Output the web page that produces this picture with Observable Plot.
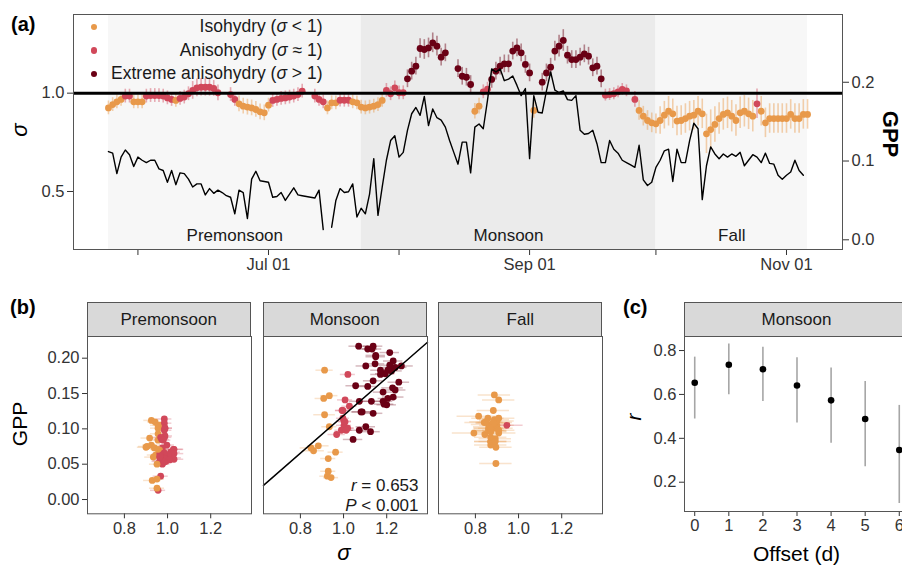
<!DOCTYPE html>
<html><head><meta charset="utf-8">
<script src="https://cdn.jsdelivr.net/npm/d3@7"></script>
<script src="https://cdn.jsdelivr.net/npm/@observablehq/plot@0.6"></script>
<style>
html,body{margin:0;padding:0;background:#fff;overflow:hidden;}
#root{position:relative;width:902px;height:565px;overflow:hidden;font-family:"Liberation Sans",Arial,sans-serif;color:#000;}
#root svg{position:absolute;}
.strip{position:absolute;background:#d9d9d9;border:1px solid #555;box-sizing:border-box;display:flex;align-items:center;justify-content:center;font-size:17px;color:#1a1a1a;}
.tag{position:absolute;font-weight:bold;font-size:20px;line-height:20px;}
.txt{position:absolute;white-space:nowrap;line-height:1;}
.rot{position:absolute;white-space:nowrap;line-height:1;transform:translate(-50%,-50%) rotate(-90deg);}
</style></head><body><div id="root"></div>
<script>
// ---------------- DATA ----------------
const startDate = "2019-05-24";           // first day of daily series
const seasonNames = ["Premonsoon", "Monsoon", "Fall"];
const seasonStart = ["2019-05-24", "2019-07-23", "2019-10-01"];
const seasonEnd   = ["2019-07-23", "2019-10-01", "2019-11-06"];
const seasonFill  = ["#f7f7f7", "#ebebeb", "#f7f7f7"];

const classCodes  = ["O", "A", "E"];
const classLabels = ["Isohydry (", "Anisohydry (", "Extreme anisohydry ("];
const classSuffix = [" < 1)", " \u2248 1)", " > 1)"];
const classColors = ["#E8994A", "#D1485A", "#6A0015"];

// daily sigma (null = missing)
const sigmaVals = [
0.925,0.942,0.956,0.968,0.985,0.985,0.956,0.956,0.956,0.985,
0.988,0.988,0.988,0.985,0.976,0.968,0.963,0.973,0.980,0.997,
1.014,1.027,1.030,1.030,1.030,1.024,1.002,null,null,0.993,
0.968,0.946,0.934,0.929,0.925,0.917,0.905,0.900,0.939,0.963,
0.968,0.973,0.976,0.980,0.985,0.993,1.010,null,null,0.985,
0.968,0.956,0.925,0.951,0.951,0.964,0.964,0.964,0.956,0.951,
0.929,0.925,0.929,0.934,0.942,0.963,1.014,0.997,1.027,1.002,
1.002,1.073,1.112,1.137,1.227,1.222,1.230,1.256,1.239,1.183,
1.205,null,null,1.125,1.086,1.081,1.044,0.908,0.934,1.007,
1.020,1.070,1.112,1.137,1.149,1.149,1.214,1.230,1.205,1.146,
1.103,0.912,null,1.056,1.103,1.132,1.214,1.239,1.268,1.193,
1.171,1.171,1.183,1.200,1.188,1.129,1.137,1.073,0.990,0.993,
0.997,1.007,1.019,1.012,null,0.968,0.912,0.883,0.861,0.849,
0.844,0.861,0.888,0.908,0.895,0.858,0.861,0.871,0.883,0.888,
0.908,0.895,0.793,0.815,0.841,0.871,0.892,0.900,0.883,0.861,
0.900,0.908,0.895,0.883,0.946,0.908,0.849,0.871,0.871,0.871,
0.871,0.871,0.892,0.871,0.871,0.892,0.892
];
// daily sigma uncertainty (half width)
const sigmaErr = [
0.035,0.035,0.035,0.035,0.035,0.035,0.035,0.035,0.035,0.035,
0.035,0.035,0.035,0.035,0.035,0.035,0.035,0.035,0.035,0.035,
0.045,0.045,0.045,0.045,0.045,0.04,0.04,0.04,0.04,0.035,
0.035,0.04,0.04,0.04,0.04,0.04,0.04,0.04,0.035,0.035,
0.035,0.035,0.035,0.035,0.035,0.035,0.035,0.035,0.035,0.035,
0.035,0.035,0.035,0.035,0.035,0.035,0.035,0.035,0.035,0.035,
0.035,0.035,0.035,0.035,0.035,0.035,0.035,0.035,0.035,0.035,
0.035,0.045,0.045,0.045,0.05,0.05,0.05,0.05,0.05,0.045,
0.045,0.045,0.045,0.045,0.045,0.045,0.045,0.04,0.04,0.035,
0.035,0.045,0.045,0.045,0.045,0.045,0.045,0.045,0.045,0.045,
0.045,0.04,0.04,0.045,0.045,0.045,0.05,0.055,0.055,0.045,
0.045,0.045,0.045,0.045,0.045,0.045,0.045,0.045,0.03,0.03,
0.03,0.03,0.03,0.03,0.03,0.04,0.05,0.05,0.05,0.05,
0.05,0.07,0.07,0.075,0.075,0.075,0.075,0.075,0.075,0.075,
0.075,0.075,0.1,0.1,0.09,0.08,0.08,0.08,0.08,0.08,
0.08,0.08,0.08,0.08,0.075,0.075,0.075,0.075,0.075,0.075,
0.075,0.075,0.075,0.075,0.075,0.075,0.075
];
// daily class code (O iso, A aniso, E extreme, . missing)
const hydryClass = (
"OOOOAAOOOA" + "AAAAAAOAAA" + "AAAAAAA..A" + "AOOOOOOOOA" + "AAAAAAA..A" +
"AAOOOAAAOO" + "OOOOOOAAAA" + "AEEEEEEEEE" + "E..EEEEOOA" + "AEEEEEEEEE" +
"EO.EEEEEEE" + "EEEEEEEEAA" + "AAAA.AOOOO" + "OOOOOOOOOO" + "OOOOOOOOOO" +
"OOOOAOOOOO" + "OOOOOOO").split("");
// daily GPP
const gppVals = [
0.112,0.110,0.084,0.105,0.114,0.108,0.093,0.105,0.101,0.098,
0.101,0.101,0.090,0.088,0.073,0.088,0.070,0.085,0.084,0.077,
0.067,0.071,0.071,0.057,0.065,0.059,0.063,0.060,0.056,0.054,
0.033,0.063,0.060,0.027,0.077,0.087,0.075,0.074,0.073,0.054,
0.055,0.060,0.050,0.058,0.066,0.057,0.056,0.055,0.054,0.053,
0.063,0.013,null,0.016,0.050,0.065,0.060,0.061,0.071,0.029,
0.040,0.033,0.058,0.103,0.031,0.067,0.101,0.126,0.132,0.105,
0.111,0.139,0.160,0.168,0.158,0.182,0.145,0.166,0.155,0.152,
0.143,0.126,0.111,0.096,0.124,0.124,0.085,0.143,0.147,0.141,
0.177,0.217,0.213,0.217,0.202,0.204,0.208,0.196,0.183,0.192,
0.103,0.183,0.162,0.161,0.189,0.213,0.190,0.187,0.189,0.178,
0.177,0.183,0.139,0.134,0.135,0.139,0.122,0.098,0.098,0.126,
0.115,0.110,0.101,0.098,0.095,0.092,0.120,0.076,0.069,0.073,
0.092,0.101,0.113,0.115,0.074,0.115,0.098,0.098,0.126,0.148,
0.141,0.051,0.094,0.118,0.109,0.103,0.109,0.105,0.109,0.106,
0.111,0.094,0.101,0.108,0.105,0.098,0.110,0.097,0.096,0.082,
0.077,0.082,0.086,0.101,0.088,0.082,null
];
// x-axis ticks of panel (a)
const tickDates  = ["2019-05-31", "2019-07-01", "2019-08-01", "2019-09-01", "2019-10-01", "2019-11-01"];
const tickLabels = ["", "Jul 01", "", "Sep 01", "", "Nov 01"];

// monsoon regression (panel b)
const fitSlope = 0.2666, fitIntercept = -0.1477;
const fitR = "0.653", fitP = "0.001";

// panel (c)
const offsets = [0, 1, 2, 3, 4, 5, 6];
const rVals = [0.653, 0.735, 0.715, 0.641, 0.573, 0.488, 0.347];
const rLo   = [0.488, 0.598, 0.568, 0.470, 0.377, 0.270, 0.103];
const rHi   = [0.770, 0.830, 0.815, 0.767, 0.720, 0.659, 0.550];

// ---------------- BUILD ----------------
const root = document.getElementById("root");
const DAY = 864e5;
const t0 = +new Date(startDate);
const sEnd = seasonEnd.map(d => +new Date(d));
const rows = sigmaVals.map((s, i) => {
  const t = t0 + i * DAY;
  const season = t < sEnd[0] ? 0 : t < sEnd[1] ? 1 : 2;
  return {date: new Date(t), sigma: s, err: sigmaErr[i], cls: hydryClass[i], gpp: gppVals[i], season};
});
const sRows = rows.filter(d => d.sigma != null);
const seasonRows = seasonNames.map((n, i) => {
  const a = +new Date(seasonStart[i]), b = +new Date(seasonEnd[i]);
  return {name: n, x1: new Date(a), x2: new Date(b), mid: new Date((a + b) / 2), fill: seasonFill[i]};
});

const font = "Liberation Sans, Arial, sans-serif";
const baseStyle = {fontFamily: font, fontSize: "16.5px", color: "#333", background: "transparent", overflow: "visible"};
const colorScale = {domain: classCodes, range: classColors};
const f1 = d3.format(".1f"), f2 = d3.format(".2f");

function place(el, left, top) { el.style.left = left + "px"; el.style.top = top + "px"; root.appendChild(el); return el; }
function html(cls, text, css) { const d = document.createElement("div"); d.className = cls; d.innerHTML = text; Object.assign(d.style, css); root.appendChild(d); return d; }

// ---- Panel (a) ----
const xDomainA = [new Date(t0 - 8.3 * DAY), new Date(t0 + 174.3 * DAY)];
const commonA = {width: 902, height: 280, marginLeft: 73, marginRight: 60, marginTop: 14, marginBottom: 31, style: baseStyle};
const tickMap = new Map(tickDates.map((d, i) => [+new Date(d), tickLabels[i]]));

const plotA = Plot.plot({
  ...commonA,
  x: {type: "utc", domain: xDomainA},
  y: {domain: [0.205, 1.40]},
  color: colorScale,
  marks: [
    ...seasonRows.map(s => Plot.rect([s], {x1: "x1", x2: "x2", fill: s.fill})),
    Plot.ruleX(sRows, {x: "date", y1: d => d.sigma - d.err, y2: d => d.sigma + d.err, stroke: "cls", strokeOpacity: 0.45, strokeWidth: 1.6}),
    Plot.dot(sRows, {x: "date", y: "sigma", fill: "cls", r: 3.4}),
    Plot.ruleY([1], {stroke: "#000", strokeWidth: 3}),
    Plot.text(seasonRows, {x: "mid", text: "name", frameAnchor: "bottom", dy: -9, fill: "#1a1a1a", fontSize: 17}),
    Plot.axisY({ticks: [0.5, 1.0], tickFormat: f1, label: null, tickSize: 6, tickPadding: 3}),
    Plot.axisX({ticks: tickDates.map(d => new Date(d)), tickFormat: d => tickMap.get(+d) ?? "", label: null, tickSize: 6, tickPadding: 3})
  ]
});
place(plotA, 0, 0);

const plotG = Plot.plot({
  ...commonA,
  x: {type: "utc", domain: xDomainA, axis: null},
  y: {domain: [-0.0123, 0.286]},
  marks: [
    Plot.line(rows, {x: "date", y: "gpp", stroke: "#000", strokeWidth: 1.4}),
    Plot.axisY({anchor: "right", ticks: [0, 0.1, 0.2], tickFormat: f1, label: null, tickSize: 6, tickPadding: 3}),
    Plot.frame({stroke: "#555"})
  ]
});
place(plotG, 0, 0);

// legend (a)
const legY = [27, 50.7, 74];
classCodes.forEach((c, i) => {
  html("txt", "", {left: (94 - 3.4) + "px", top: (legY[i] - 3.4) + "px", width: "6.8px", height: "6.8px", borderRadius: "50%", background: classColors[i]});
  html("txt", classLabels[i] + "<i>\u03c3</i>" + classSuffix[i], {right: (902 - 322.5) + "px", top: (legY[i] - 9) + "px", fontSize: "17.5px", color: "#1a1a1a", textAlign: "right"});
});
html("tag", "(a)", {left: "11px", top: "14px"});
html("rot", "<i>\u03c3</i>", {left: "20px", top: "130px", fontSize: "22px"});
html("rot", "<b>GPP</b>", {left: "890px", top: "134px", fontSize: "22px", transform: "translate(-50%,-50%) rotate(90deg)"});

// ---- Panel (b) ----
const bLefts = [86.7, 262.7, 438.3];
const bW = 164, bTop = 336, bH = 177.3;
const bXDomain = [0.629, 1.389], bYDomain = [-0.0202, 0.2307];
const fitLine = bXDomain.map(x => ({x, y: fitIntercept + fitSlope * x}));
seasonNames.forEach((name, k) => {
  const data = sRows.filter(d => d.season === k && d.gpp != null);
  const ml = k === 0 ? 87 : 1;
  const marks = [
    Plot.ruleY(data, {y: "gpp", x1: d => d.sigma - d.err, x2: d => d.sigma + d.err, stroke: "cls", strokeOpacity: 0.28, strokeWidth: 1.5}),
    Plot.dot(data, {x: "sigma", y: "gpp", fill: "cls", r: 3.4}),
    Plot.axisX({ticks: [0.8, 1.0, 1.2], tickFormat: f1, label: null, tickSize: 5, tickPadding: 3}),
    Plot.frame({stroke: "#555"})
  ];
  if (k === 0) marks.push(Plot.axisY({ticks: [0, 0.05, 0.1, 0.15, 0.2], tickFormat: f2, label: null, tickSize: 5, tickPadding: 3}));
  if (k === 1) marks.splice(2, 0, Plot.line(fitLine, {x: "x", y: "y", stroke: "#000", strokeWidth: 1.5}));
  const p = Plot.plot({
    width: ml + bW + 1, height: 1 + bH + 30, marginLeft: ml, marginRight: 1, marginTop: 1, marginBottom: 30,
    x: {domain: bXDomain},
    y: k === 0 ? {domain: bYDomain} : {domain: bYDomain, axis: null},
    color: colorScale, style: baseStyle, marks
  });
  place(p, bLefts[k] - ml, bTop - 1);
  html("strip", name, {left: bLefts[k] + "px", top: "302px", width: bW + "px", height: "35px"});
});
html("txt", "<i>r</i> = " + fitR, {right: (902 - 418.5) + "px", top: "477px", fontSize: "17px", color: "#1a1a1a"});
html("txt", "<i>P</i> &lt; " + fitP, {right: (902 - 418.5) + "px", top: "496.5px", fontSize: "17px", color: "#1a1a1a"});
html("tag", "(b)", {left: "10px", top: "296.5px"});
html("rot", "GPP", {left: "19px", top: "424px", fontSize: "21px"});
html("txt", "<i>\u03c3</i>", {left: "344px", top: "553px", fontSize: "22px", transform: "translate(-50%,-50%)"});

// ---- Panel (c) ----
const cRows = offsets.map((o, i) => ({offset: o, r: rVals[i], lo: rLo[i], hi: rHi[i]}));
const cLeft = 684, cW = 225, cTop = 336, cH = 175;
const plotC = Plot.plot({
  width: 84 + cW + 1, height: 1 + cH + 30, marginLeft: 84, marginRight: 1, marginTop: 1, marginBottom: 30,
  x: {domain: [-0.3, 6.3]}, y: {domain: [0.0665, 0.864]}, style: baseStyle,
  marks: [
    Plot.ruleX(cRows, {x: "offset", y1: "lo", y2: "hi", stroke: "#a6a6a6", strokeWidth: 1.6}),
    Plot.dot(cRows, {x: "offset", y: "r", fill: "#000", r: 3.3}),
    Plot.axisX({ticks: offsets, tickFormat: d3.format("d"), label: null, tickSize: 5, tickPadding: 3}),
    Plot.axisY({ticks: [0.2, 0.4, 0.6, 0.8], tickFormat: f1, label: null, tickSize: 5, tickPadding: 3}),
    Plot.frame({stroke: "#555"})
  ]
});
place(plotC, cLeft - 84, cTop - 1);
html("strip", "Monsoon", {left: cLeft + "px", top: "302px", width: cW + "px", height: "35px"});
html("tag", "(c)", {left: "623px", top: "296.5px"});
html("rot", "<i>r</i>", {left: "633px", top: "417px", fontSize: "21px"});
html("txt", "Offset (d)", {left: "796.5px", top: "553px", fontSize: "21px", transform: "translate(-50%,-50%)"});
</script></body></html>
